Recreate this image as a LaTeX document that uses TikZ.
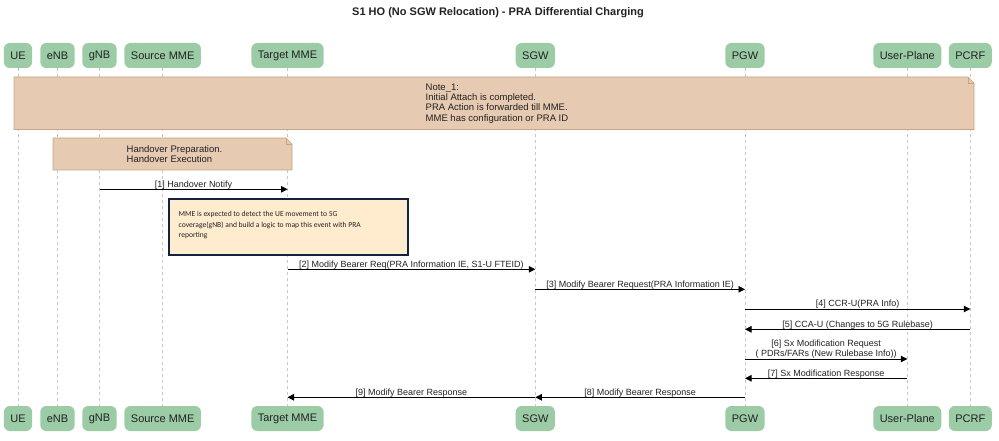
\documentclass[tikz,border=0pt]{standalone}
\usepackage{fontspec}
\setmainfont{Liberation Sans}
\newfontfamily\calfont{Carlito}
\usetikzlibrary{arrows.meta}
\definecolor{partfill}{RGB}{155,204,166}
\definecolor{notefill}{RGB}{231,202,178}
\definecolor{notedraw}{RGB}{201,163,130}
\definecolor{mmefill}{RGB}{255,236,206}
\definecolor{mmedraw}{RGB}{18,33,62}
\definecolor{lifegray}{RGB}{200,200,200}
\definecolor{txt}{RGB}{34,34,34}
\tikzset{
  part/.style={fill=partfill, rounded corners=6pt, minimum height=25pt, inner xsep=6.5pt, inner ysep=0pt,
    font=\fontsize{11}{13}\selectfont, text=txt},
  life/.style={draw=lifegray, dash pattern=on 3pt off 3pt, line width=0.6pt},
  msg/.style={draw=black, line width=0.8pt, -{Triangle[length=6.5pt,width=6.5pt]}},
  mlabel/.style={font=\fontsize{9}{10.6}\selectfont, inner sep=0pt, anchor=south, align=center, text=txt},
  notebox/.style={fill=notefill, draw=notedraw, line width=0.6pt},
  notetext/.style={font=\fontsize{9.5}{10.4}\selectfont, inner sep=0pt, anchor=west, align=left, text=txt},
}
\begin{document}
\begin{tikzpicture}[x=1pt,y=-1pt]
\useasboundingbox (0,0) rectangle (999,441);
\node[font=\bfseries\fontsize{11}{13}\selectfont, text=txt] (title) at (498,12.7) {S1 HO (No SGW Relocation) - PRA Differential Charging};

% participants top
\node[part] (UEt)   at (18,55.5)    {UE};
\node[part] (eNBt)  at (57.5,55.5)  {eNB};
\node[part] (gNBt)  at (99.5,55.5)  {gNB};
\node[part] (SMMEt) at (162.7,55.5) {Source MME};
\node[part] (TMMEt) at (287.5,55.5) {Target MME};
\node[part] (SGWt)  at (535.3,55.5) {SGW};
\node[part] (PGWt)  at (745,55.5)   {PGW};
\node[part] (UPt)   at (907.3,55.5) {User-Plane};
\node[part] (PCRFt) at (970.3,55.5) {PCRF};
% participants bottom
\node[part] (UEb)   at (18,418.5)    {UE};
\node[part] (eNBb)  at (57.5,418.5)  {eNB};
\node[part] (gNBb)  at (99.5,418.5)  {gNB};
\node[part] (SMMEb) at (162.7,418.5) {Source MME};
\node[part] (TMMEb) at (287.5,418.5) {Target MME};
\node[part] (SGWb)  at (535.3,418.5) {SGW};
\node[part] (PGWb)  at (745,418.5)   {PGW};
\node[part] (UPb)   at (907.3,418.5) {User-Plane};
\node[part] (PCRFb) at (970.3,418.5) {PCRF};

% lifelines
\foreach \p in {UE,eNB,gNB,SMME,TMME,SGW,PGW,UP,PCRF}{
  \draw[life] (\p t.south) -- (\p b.north);
}

% Note 1
\draw[notebox] (14,77) -- (968,77) -- (974,83) -- (974,129.5) -- (14,129.5) -- cycle;
\draw[notedraw, line width=0.6pt] (968,77) -- (968,83) -- (974,83);
\node[notetext] (note1) at (425.5,103.5) {Note\_1:\\Initial Attach is completed.\\PRA Action is forwarded till MME.\\MME has configuration or PRA ID};

% Handover note
\draw[notebox] (53,138) -- (286,138) -- (292,144) -- (292,170) -- (53,170) -- cycle;
\draw[notedraw, line width=0.6pt] (286,138) -- (286,144) -- (292,144);
\node[notetext] (note2) at (126.5,154) {Handover Preparation.\\Handover Execution};

% [1]
\draw[msg] (gNBt |- 0,189.3) -- (TMMEt |- 0,189.3) node[mlabel, midway] (l1) {[1] Handover Notify};

% MME box
\node[fill=mmefill, draw=mmedraw, line width=2pt, minimum width=239pt, minimum height=56pt, anchor=north west, inner sep=0pt] (mmebox) at (168,198) {};
\node[font=\calfont\fontsize{7.6}{10.5}\selectfont, inner sep=0pt, anchor=west, align=left, text=txt] (mmetext) at (178.5,225.5)
  {MME is expected to detect the UE movement to 5G\\coverage(gNB) and build a logic to map this event with PRA\\reporting};

% [2]..[9]
\draw[msg] (TMMEt |- 0,269.3) -- (SGWt |- 0,269.3) node[mlabel, midway] (l2) {[2] Modify Bearer Req(PRA Information IE, S1-U FTEID)};
\draw[msg] (SGWt |- 0,289.3) -- (PGWt |- 0,289.3) node[mlabel, midway] (l3) {[3] Modify Bearer Request(PRA Information IE)};
\draw[msg] (PGWt |- 0,309) -- (PCRFt |- 0,309) node[mlabel, midway] (l4) {[4] CCR-U(PRA Info)};
\draw[msg] (PCRFt |- 0,329.3) -- (PGWt |- 0,329.3) node[mlabel, midway] (l5) {[5] CCA-U (Changes to 5G Rulebase)};
\draw[msg] (PGWt |- 0,359) -- (UPt |- 0,359) node[mlabel, midway] (l6) {[6] Sx Modification Request\\( PDRs/FARs (New Rulebase Info))};
\draw[msg] (UPt |- 0,378.3) -- (PGWt |- 0,378.3) node[mlabel, midway] (l7) {[7] Sx Modification Response};
\draw[msg] (PGWt |- 0,397.3) -- (SGWt |- 0,397.3) node[mlabel, midway] (l8) {[8] Modify Bearer Response};
\draw[msg] (SGWt |- 0,397.3) -- (TMMEt |- 0,397.3) node[mlabel, midway] (l9) {[9] Modify Bearer Response};
\end{tikzpicture}
\end{document}
